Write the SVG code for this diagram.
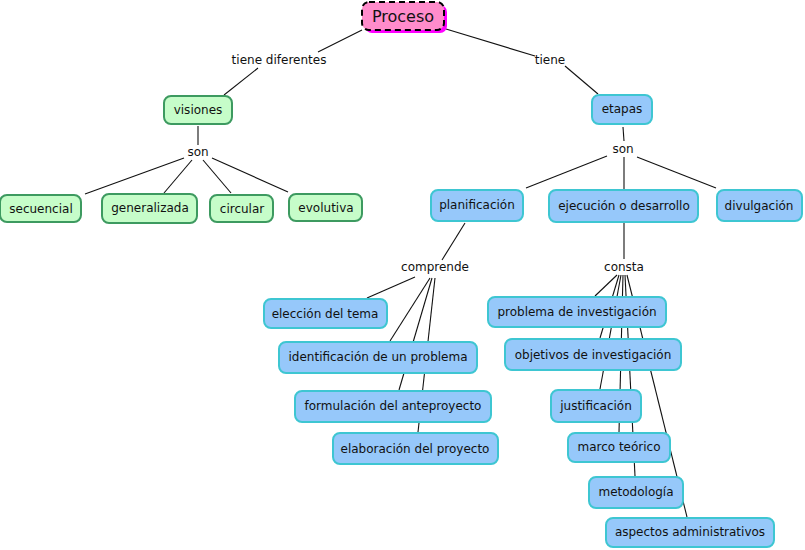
<svg xmlns="http://www.w3.org/2000/svg" width="805" height="550" viewBox="0 0 805 550">
<style>
text{font-family:"DejaVu Sans",Verdana,sans-serif;font-size:12px;fill:#111;text-anchor:middle;dominant-baseline:central}
.g rect{fill:#c6fdc9;stroke:#3d9a60;stroke-width:2}
.b rect{fill:#96c8fa;stroke:#3ec6d2;stroke-width:2}
#connectors line{stroke:#111;stroke-width:1.1}
</style>
<rect width="805" height="550" fill="#fff"/>
<g id="connectors">
<line x1="362" y1="30" x2="318" y2="52"/>
<line x1="258" y1="68" x2="224" y2="95"/>
<line x1="446" y1="29" x2="535" y2="56"/>
<line x1="565" y1="66" x2="598" y2="94"/>
<line x1="198" y1="126" x2="198" y2="145"/>
<line x1="184" y1="158" x2="85" y2="194"/>
<line x1="192" y1="160" x2="164" y2="193"/>
<line x1="203" y1="160" x2="231" y2="193"/>
<line x1="212" y1="158" x2="288" y2="192"/>
<line x1="623" y1="127" x2="624" y2="141"/>
<line x1="607" y1="156" x2="526" y2="188"/>
<line x1="624" y1="157" x2="624" y2="189"/>
<line x1="637" y1="157" x2="716" y2="188"/>
<line x1="465" y1="223" x2="442" y2="260"/>
<line x1="415" y1="277" x2="367" y2="298"/>
<line x1="430" y1="278" x2="390" y2="341"/>
<line x1="432" y1="278" x2="399" y2="390"/>
<line x1="435" y1="278" x2="418" y2="432"/>
<line x1="624" y1="223" x2="624" y2="259"/>
<line x1="617" y1="275" x2="595" y2="296"/>
<line x1="619" y1="275" x2="600" y2="338"/>
<line x1="621" y1="275" x2="600" y2="389"/>
<line x1="623" y1="275" x2="619" y2="432"/>
<line x1="625" y1="275" x2="635" y2="476"/>
<line x1="627" y1="275" x2="687" y2="517"/>
</g>
<g id="proceso">
<rect x="365" y="5" width="82" height="28" rx="7" fill="#f0f"/>
<rect x="362" y="2" width="82" height="28" rx="7" fill="#ff8ccb" stroke="#000" stroke-width="2" stroke-dasharray="6,4"/>
<text x="403" y="16" style="font-size:16px">Proceso</text>
</g>
<g id="lbl-tiene-diferentes"><text x="279" y="60">tiene diferentes</text></g>
<g id="lbl-tiene"><text x="550" y="60">tiene</text></g>
<g id="visiones" class="g"><rect x="164" y="96" width="68" height="28" rx="7"/><text x="198" y="110">visiones</text></g>
<g id="lbl-son-1"><text x="198" y="152">son</text></g>
<g id="secuencial" class="g"><rect x="0" y="195" width="81" height="27" rx="7"/><text x="41" y="209">secuencial</text></g>
<g id="generalizada" class="g"><rect x="102" y="194" width="95" height="29" rx="7"/><text x="150" y="208">generalizada</text></g>
<g id="circular" class="g"><rect x="210" y="195" width="63" height="27" rx="7"/><text x="242" y="209">circular</text></g>
<g id="evolutiva" class="g"><rect x="289" y="194" width="73" height="27" rx="7"/><text x="326" y="208">evolutiva</text></g>
<g id="etapas" class="b"><rect x="592" y="95" width="60" height="29" rx="7"/><text x="622" y="109">etapas</text></g>
<g id="lbl-son-2"><text x="623" y="149">son</text></g>
<g id="planificacion" class="b"><rect x="431" y="190" width="92" height="31" rx="7"/><text x="477" y="205">planificación</text></g>
<g id="ejecucion" class="b"><rect x="549" y="190" width="149" height="32" rx="7"/><text x="624" y="206">ejecución o desarrollo</text></g>
<g id="divulgacion" class="b"><rect x="717" y="190" width="85" height="31" rx="7"/><text x="759" y="206">divulgación</text></g>
<g id="lbl-comprende"><text x="435" y="267">comprende</text></g>
<g id="eleccion" class="b"><rect x="264" y="299" width="123" height="29" rx="7"/><text x="325" y="314">elección del tema</text></g>
<g id="identificacion" class="b"><rect x="279" y="342" width="198" height="31" rx="7"/><text x="378" y="357">identificación de un problema</text></g>
<g id="formulacion" class="b"><rect x="295" y="391" width="196" height="31" rx="7"/><text x="393" y="406">formulación del anteproyecto</text></g>
<g id="elaboracion" class="b"><rect x="333" y="433" width="165" height="31" rx="7"/><text x="415" y="449">elaboración del proyecto</text></g>
<g id="lbl-consta"><text x="624" y="267">consta</text></g>
<g id="problema" class="b"><rect x="488" y="297" width="178" height="30" rx="7"/><text x="577" y="312">problema de investigación</text></g>
<g id="objetivos" class="b"><rect x="505" y="339" width="176" height="31" rx="7"/><text x="593" y="355">objetivos de investigación</text></g>
<g id="justificacion" class="b"><rect x="551" y="390" width="90" height="32" rx="7"/><text x="596" y="406">justificación</text></g>
<g id="marco" class="b"><rect x="568" y="433" width="102" height="29" rx="7"/><text x="619" y="447">marco teórico</text></g>
<g id="metodologia" class="b"><rect x="589" y="477" width="94" height="31" rx="7"/><text x="636" y="492">metodología</text></g>
<g id="aspectos" class="b"><rect x="606" y="518" width="168" height="29" rx="7"/><text x="690" y="532">aspectos administrativos</text></g>
</svg>
